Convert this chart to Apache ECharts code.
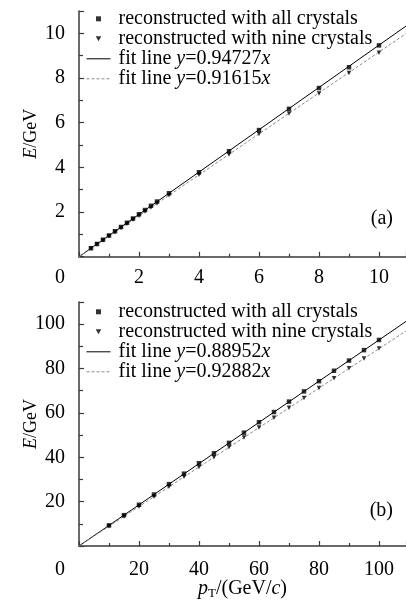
<!DOCTYPE html>
<html><head><meta charset="utf-8">
<script src="https://cdn.jsdelivr.net/npm/echarts@6/dist/echarts.min.js"></script>
<style>html,body{margin:0;padding:0;background:#fff}#c{width:406px;height:608px}</style>
</head><body><div id="c"></div>
<script>
// Panel (a)
const xA = [0.4,0.6,0.8,1.0,1.2,1.4,1.6,1.8,2.0,2.2,2.4,2.6,3,4,5,6,7,8,9,10];
const allA = [0.38,0.57,0.76,0.95,1.14,1.33,1.52,1.71,1.90,2.09,2.28,2.47,2.84,3.78,4.72,5.67,6.62,7.55,8.48,9.46];
const nineA = [0.37,0.55,0.73,0.92,1.10,1.28,1.47,1.65,1.83,2.02,2.20,2.38,2.75,3.67,4.58,5.49,6.41,7.31,8.22,9.13];
const fitSolidA = [[0,0],[11,10.42]];
const fitDashA = [[0,0],[11,10.08]];
// Panel (b)
const xB = [10,15,20,25,30,35,40,45,50,55,60,65,70,75,80,85,90,95,100];
const allB = [9.3,13.9,18.6,23.2,27.9,32.6,37.3,41.8,46.5,51.1,55.8,60.4,65.1,69.7,74.3,79.0,83.6,88.3,92.9];
const nineB = [8.9,13.3,17.8,22.2,26.7,31.2,35.6,40.0,44.5,48.9,53.4,57.8,62.3,66.7,71.2,75.6,80.1,84.5,89.0];
const fitSolidB = [[0,0],[110,102.17]];
const fitDashB = [[0,0],[110,97.85]];
const nameAll = 'reconstructed with all crystals';
const nameNine = 'reconstructed with nine crystals';
const fitNamesA = ['fit line y=0.94727x','fit line y=0.91615x'];
const fitNamesB = ['fit line y=0.88952x','fit line y=0.92882x'];

const FONT = '"Liberation Serif", "Times New Roman", serif';
const AX = '#3a3a3a';
const zip = (xs, ys) => xs.map((x,i)=>[x, ys[i]]);
const sqIcon = 'path://M0,0L1,0L1,1L0,1Z';
const triIcon = 'path://M0,0L2,0L1,1.8Z';

function legendFmt(n){
  const m = n.match(/^fit line y=(.*)x$/);
  if (m) return 'fit line {i|y}=' + m[1] + '{i|x}';
  return n;
}
function makeLegend(top, fits){
  return {
    left: 86, top: top, orient: 'vertical', itemGap: 0,
    itemWidth: 24, itemHeight: 5, padding: 0,
    selectedMode: false,
    lineStyle: {width: 1},
    textStyle: {fontFamily: FONT, fontSize: 20, color: '#000', lineHeight: 18.5, padding:[0,0,0,3],
      rich: {i: {fontFamily: FONT, fontSize: 20, fontStyle: 'italic', color:'#000', lineHeight: 18.5}}},
    formatter: legendFmt,
    data: [
      {name: nameAll, icon: sqIcon},
      {name: nameNine, icon: triIcon},
      {name: fits[0], itemStyle: {opacity: 0}, lineStyle: {width: 1}},
      {name: fits[1], itemStyle: {opacity: 0}, lineStyle: {width: 1}}
    ]
  };
}
function xAxisOpt(idx, max, interval, withName, margin){
  const o = {
    type: 'value', gridIndex: idx, min: 0, max: max, interval: interval,
    axisLine: {show: true, onZero: false, lineStyle: {color: AX, width: 1.5}},
    axisTick: {show: true, inside: true, length: 5, lineStyle: {color: AX, width: 1.2}},
    minorTick: {show: true, splitNumber: 2, length: 3, lineStyle: {color: AX, width: 1.2}},
    splitLine: {show: false},
    axisLabel: {showMaxLabel: false, margin: margin, fontFamily: FONT, fontSize: 20, color: '#000',
      formatter: v => v === 0 ? '{z|0}' : String(v),
      rich: {z: {fontFamily: FONT, fontSize: 20, color:'#000', padding: [0, 38, 0, 0]}}}
  };
  if (withName) {
    o.name = '{i|p}{s|T}/(GeV/{i|c})';
    o.nameLocation = 'middle';
    o.nameGap = 31;
    o.nameMoveOverlap = false;
    o.nameTextStyle = {fontFamily: FONT, fontSize: 20, color: '#000',
      rich: {i: {fontFamily: FONT, fontSize: 20, fontStyle: 'italic', color:'#000'},
             s: {fontFamily: FONT, fontSize: 13, color:'#000', padding: [10,0,0,0]}}};
  }
  return o;
}
function yAxisOpt(idx, max, interval){
  return {
    type: 'value', gridIndex: idx, min: 0, max: max, interval: interval,
    name: '{i|E}/GeV', nameLocation: 'middle', nameGap: 39, nameMoveOverlap: false,
    nameTextStyle: {fontFamily: FONT, fontSize: 18, color: '#000',
      rich: {i: {fontFamily: FONT, fontSize: 18, fontStyle: 'italic', color:'#000'}}},
    axisLine: {show: true, onZero: false, lineStyle: {color: AX, width: 1.5}},
    axisTick: {show: true, inside: true, length: 5, lineStyle: {color: AX, width: 1.2}},
    minorTick: {show: true, splitNumber: 2, length: 4, lineStyle: {color: AX, width: 1.2}},
    splitLine: {show: false},
    axisLabel: {showMinLabel: false, showMaxLabel: false, margin: 14, fontFamily: FONT, fontSize: 20, color: '#000'}
  };
}
function panelSeries(idx, xs, all, nine, solid, dash, fits){
  return [
    {type: 'line', name: fits[0], xAxisIndex: idx, yAxisIndex: idx, data: solid, symbol: 'none',
     color: '#000', lineStyle: {color: '#000', width: 1}, clip: true, z: 2, silent: true},
    {type: 'line', name: fits[1], xAxisIndex: idx, yAxisIndex: idx, data: dash, symbol: 'none',
     color: '#8a8a8a', lineStyle: {color: '#8a8a8a', width: 1, type: [3,2]}, clip: true, z: 2, silent: true},
    {type: 'scatter', name: nameAll, xAxisIndex: idx, yAxisIndex: idx, data: zip(xs, all),
     symbol: 'rect', symbolSize: 4.5, itemStyle: {color: '#000'}, z: 4, silent: true},
    {type: 'scatter', name: nameNine, xAxisIndex: idx, yAxisIndex: idx, data: zip(xs, nine),
     symbol: 'triangle', symbolRotate: 180, symbolSize: 4.5, itemStyle: {color: '#000'}, z: 3, silent: true}
  ];
}

const chart = echarts.init(document.getElementById('c'), null, {renderer: 'canvas'});
chart.setOption({
  backgroundColor: '#fff',
  animation: false,
  grid: [
    {left: 79, top: 11, width: 327, height: 245.7},
    {left: 79, top: 302, width: 327, height: 244}
  ],
  legend: [makeLegend(8.8, fitNamesA), makeLegend(301.8, fitNamesB)],
  xAxis: [xAxisOpt(0, 10.9, 2, false, 11), xAxisOpt(1, 109, 20, true, 14)],
  yAxis: [yAxisOpt(0, 11, 2), yAxisOpt(1, 110, 20)],
  graphic: [
    {type: 'text', right: 13, top: 209, style: {text: '(a)', font: '20px "Liberation Serif", serif', fill: '#000'}},
    {type: 'text', right: 13, top: 501, style: {text: '(b)', font: '20px "Liberation Serif", serif', fill: '#000'}}
  ],
  series: [].concat(
    panelSeries(0, xA, allA, nineA, fitSolidA, fitDashA, fitNamesA),
    panelSeries(1, xB, allB, nineB, fitSolidB, fitDashB, fitNamesB)
  )
});
</script></body></html>
